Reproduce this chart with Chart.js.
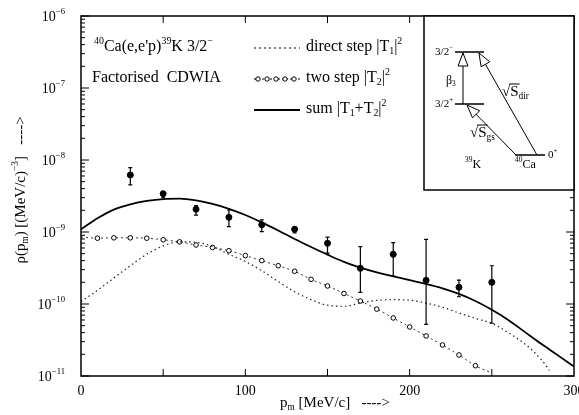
<!DOCTYPE html>
<html>
<head>
<meta charset="utf-8">
<script src="https://cdn.jsdelivr.net/npm/chart.js@4.4.1/dist/chart.umd.min.js"></script>
<style>
  html, body { margin: 0; padding: 0; background: #fff; }
  #wrap { width: 579px; height: 415px; }
</style>
</head>
<body>
<div id="wrap"><canvas id="myChart"></canvas></div>
<script>
// measured points
const pm = [30, 50, 70, 90, 110, 130, 150, 170, 190, 210, 230, 250];
const rho = [6.2e-9, 3.4e-9, 2.07e-9, 1.6e-9, 1.26e-9, 1.09e-9, 6.97e-10, 3.13e-10, 4.9e-10, 2.13e-10, 1.71e-10, 2.0e-10];
const rhoLo = [4.5e-9, 2.99e-9, 1.71e-9, 1.19e-9, 1.01e-9, 9.7e-10, 5.1e-10, 1.45e-10, 2.45e-10, 5.2e-11, 1.26e-10, 5.4e-11];
const rhoHi = [7.82e-9, 3.63e-9, 2.32e-9, 2.02e-9, 1.47e-9, 1.17e-9, 8.5e-10, 6.25e-10, 7.1e-10, 7.9e-10, 2.15e-10, 3.4e-10];

// sum |T1+T2|^2
const sumP = [0, 10, 20, 30, 40, 50, 60, 70, 80, 90, 100, 110, 120, 130, 140, 150, 160, 170, 180, 190, 200, 210, 220, 230, 240, 250, 260, 270, 280, 290, 300];
const sumV = [1.09e-9, 1.55e-9, 2.05e-9, 2.42e-9, 2.7e-9, 2.87e-9, 2.9e-9, 2.74e-9, 2.45e-9, 2.1e-9, 1.72e-9, 1.36e-9, 1.05e-9, 8.0e-10, 6.2e-10, 4.85e-10, 3.85e-10, 3.2e-10, 2.75e-10, 2.42e-10, 2.15e-10, 1.9e-10, 1.65e-10, 1.38e-10, 1.1e-10, 8.3e-11, 6e-11, 4.1e-11, 2.8e-11, 1.95e-11, 1.35e-11];

// direct step |T1|^2
const directP = [0, 10, 20, 30, 40, 50, 60, 70, 80, 90, 100, 110, 120, 130, 140, 150, 160, 170, 180, 190, 200, 210, 220, 230, 240, 250, 260, 270, 280, 285];
const directV = [1.08e-10, 1.55e-10, 2.3e-10, 3.4e-10, 4.9e-10, 6.4e-10, 7.3e-10, 7.2e-10, 6.3e-10, 4.9e-10, 3.9e-10, 2.9e-10, 2.05e-10, 1.48e-10, 1.15e-10, 9.6e-11, 9.3e-11, 1.03e-10, 1.12e-10, 1.15e-10, 1.13e-10, 1.03e-10, 9.0e-11, 7.5e-11, 6.3e-11, 5.4e-11, 4.0e-11, 2.8e-11, 1.7e-11, 1.2e-11];

// two step |T2|^2
const twoP = [0, 10, 20, 30, 40, 50, 60, 70, 80, 90, 100, 110, 120, 130, 140, 150, 160, 170, 180, 190, 200, 210, 220, 230, 240, 250];
const twoV = [8.5e-10, 8.2e-10, 8.3e-10, 8.3e-10, 8.2e-10, 7.8e-10, 7.3e-10, 6.6e-10, 6.1e-10, 5.5e-10, 4.7e-10, 4.0e-10, 3.4e-10, 2.85e-10, 2.2e-10, 1.78e-10, 1.4e-10, 1.1e-10, 8.5e-11, 6.4e-11, 4.8e-11, 3.6e-11, 2.7e-11, 1.96e-11, 1.39e-11, 1.1e-11];

// axis ticks
const xTicks = [0, 100, 200, 300];
const xMajor = [50, 100, 150, 200, 250];
const yExp = [-11, -10, -9, -8, -7, -6];

const SERIF = '"Liberation Serif", "DejaVu Serif", serif';

function pts(xs, ys) {
    return xs.map((x, i) => ({ x: x, y: ys[i] }));
}

function richWidth(ctx, segs, size) {
    let w = 0;
    for (const s of segs) {
        ctx.font = (s[1] ? size * 0.62 : size) + 'px ' + SERIF;
        w += ctx.measureText(s[0]).width;
    }
    return w;
}

function drawRich(ctx, segs, x, y, size, align) {
    let w = richWidth(ctx, segs, size);
    let cx = x;
    if (align == 'right') cx = x - w;
    if (align == 'center') cx = x - w / 2;
    ctx.textBaseline = 'middle';
    ctx.textAlign = 'left';
    for (const s of segs) {
        let sz = s[1] ? size * 0.62 : size;
        ctx.font = sz + 'px ' + SERIF;
        let dy = 0;
        if (s[1] == 1) dy = -size * 0.38;
        if (s[1] == -1) dy = size * 0.28;
        ctx.fillText(s[0], cx, y + dy);
        cx += ctx.measureText(s[0]).width;
    }
}

function openHead(ctx, x1, y1, x2, y2) {
    let a = Math.atan2(y2 - y1, x2 - x1);
    let len = 13, hw = 5;
    let bx = x2 - len * Math.cos(a), by = y2 - len * Math.sin(a);
    ctx.beginPath();
    ctx.moveTo(x2, y2);
    ctx.lineTo(bx + hw * Math.sin(a), by - hw * Math.cos(a));
    ctx.lineTo(bx - hw * Math.sin(a), by + hw * Math.cos(a));
    ctx.closePath();
    ctx.fillStyle = '#fff';
    ctx.fill();
    ctx.stroke();
}

const decor = {
    id: 'decor',
    afterDatasetsDraw(chart) {
        const ctx = chart.ctx;
        const xs = chart.scales.x, ys = chart.scales.y;
        const a = chart.chartArea;
        ctx.save();
        ctx.strokeStyle = '#000';
        ctx.fillStyle = '#000';

        // error bars
        ctx.lineWidth = 1.2;
        for (let i = 0; i < pm.length; i++) {
            let px = xs.getPixelForValue(pm[i]);
            let y1 = ys.getPixelForValue(rhoLo[i]);
            let y2 = ys.getPixelForValue(rhoHi[i]);
            ctx.beginPath();
            ctx.moveTo(px, y1); ctx.lineTo(px, y2);
            ctx.moveTo(px - 2, y1); ctx.lineTo(px + 2, y1);
            ctx.moveTo(px - 2, y2); ctx.lineTo(px + 2, y2);
            ctx.stroke();
        }

        // frame
        ctx.lineWidth = 1.5;
        ctx.strokeRect(a.left, a.top, a.right - a.left, a.bottom - a.top);

        // y ticks, both sides
        ctx.lineWidth = 1;
        ctx.beginPath();
        for (let e = -11; e <= -6; e++) {
            for (let m = 1; m <= 9; m++) {
                if (e == -6 && m > 1) break;
                let v = m * Math.pow(10, e);
                let py = ys.getPixelForValue(v);
                let len = m == 1 ? 8 : 4;
                ctx.moveTo(a.left, py); ctx.lineTo(a.left + len, py);
                ctx.moveTo(a.right, py); ctx.lineTo(a.right - len, py);
            }
        }
        // x ticks, both sides
        for (const v of xMajor) {
            let px = xs.getPixelForValue(v);
            ctx.moveTo(px, a.bottom); ctx.lineTo(px, a.bottom - 7);
            ctx.moveTo(px, a.top); ctx.lineTo(px, a.top + 7);
        }
        ctx.stroke();

        // tick labels
        for (const e of yExp) {
            drawRich(ctx, [['10', 0], [String(e).replace('-', '\u2212'), 1]], a.left - 16, ys.getPixelForValue(Math.pow(10, e)) + 1, 14, 'right');
        }
        for (const v of xTicks) {
            drawRich(ctx, [[String(v), 0]], xs.getPixelForValue(v), a.bottom + 15, 14, 'center');
        }

        // axis titles
        drawRich(ctx, [['p', 0], ['m', -1], [' [MeV/c]   ---->', 0]], 335, 403, 15, 'center');
        ctx.save();
        ctx.translate(21, 190);
        ctx.rotate(-Math.PI / 2);
        drawRich(ctx, [['\u03c1(p', 0], ['m', -1], [') [(MeV/c)', 0], ['\u22123', 1], [']   ---->', 0]], 0, 0, 15, 'center');
        ctx.restore();

        // legend
        drawRich(ctx, [['40', 1], ['Ca(e,e\'p)', 0], ['39', 1], ['K 3/2', 0], ['\u2212', 1]], 94, 47, 16, 'left');
        drawRich(ctx, [['Factorised  CDWIA', 0]], 92, 78, 16, 'left');

        ctx.lineWidth = 1.2;
        ctx.setLineDash([2, 3]);
        ctx.beginPath(); ctx.moveTo(254, 48); ctx.lineTo(300, 48); ctx.stroke();
        ctx.setLineDash([2, 2]);
        ctx.lineWidth = 1;
        ctx.beginPath(); ctx.moveTo(254, 79); ctx.lineTo(300, 79); ctx.stroke();
        ctx.setLineDash([]);
        for (let k = 0; k < 5; k++) {
            ctx.beginPath();
            ctx.arc(258 + k * 9, 79, 2.2, 0, Math.PI * 2);
            ctx.fillStyle = '#fff'; ctx.fill(); ctx.stroke();
        }
        ctx.fillStyle = '#000';
        ctx.lineWidth = 2;
        ctx.beginPath(); ctx.moveTo(254, 110); ctx.lineTo(300, 110); ctx.stroke();

        drawRich(ctx, [['direct step |T', 0], ['1', -1], ['|', 0], ['2', 1]], 306, 47, 16, 'left');
        drawRich(ctx, [['two step |T', 0], ['2', -1], ['|', 0], ['2', 1]], 306, 78, 16, 'left');
        drawRich(ctx, [['sum |T', 0], ['1', -1], ['+T', 0], ['2', -1], ['|', 0], ['2', 1]], 306, 109, 16, 'left');

        // inset level scheme
        ctx.fillStyle = '#fff';
        ctx.fillRect(424, a.top, a.right - 424, 190 - a.top);
        ctx.fillStyle = '#000';
        ctx.lineWidth = 1.5;
        ctx.strokeRect(424, a.top, a.right - 424, 190 - a.top);

        ctx.lineWidth = 1.5;
        ctx.beginPath();
        ctx.moveTo(455, 52); ctx.lineTo(484, 52);
        ctx.moveTo(455, 104); ctx.lineTo(484, 104);
        ctx.moveTo(515, 155); ctx.lineTo(545, 155);
        ctx.stroke();

        ctx.lineWidth = 1;
        ctx.beginPath();
        ctx.moveTo(463, 104); ctx.lineTo(463, 53);
        ctx.moveTo(537, 155); ctx.lineTo(479, 53);
        ctx.moveTo(516, 155); ctx.lineTo(467, 105);
        ctx.stroke();
        openHead(ctx, 463, 104, 463, 53);
        openHead(ctx, 537, 155, 479, 53);
        openHead(ctx, 516, 155, 467, 105);
        ctx.fillStyle = '#000';

        drawRich(ctx, [['3/2', 0], ['\u2212', 1]], 453, 52, 11, 'right');
        drawRich(ctx, [['3/2', 0], ['+', 1]], 453, 104, 11, 'right');
        drawRich(ctx, [['0', 0], ['+', 1]], 548, 155, 11, 'left');
        drawRich(ctx, [['\u03b2', 0], ['3', -1]], 446, 81, 12, 'left');
        drawRich(ctx, [['39', 1], ['K', 0]], 465, 165, 12, 'left');
        drawRich(ctx, [['40', 1], ['Ca', 0]], 515, 165, 12, 'left');

        // sqrt labels
        drawRich(ctx, [['\u221aS', 0], ['dir', -1]], 502, 92, 15, 'left');
        drawRich(ctx, [['\u221aS', 0], ['gs', -1]], 470, 133, 15, 'left');
        ctx.lineWidth = 1;
        ctx.font = '15px ' + SERIF;
        let rw = ctx.measureText('\u221a').width, sw = ctx.measureText('S').width;
        ctx.beginPath();
        ctx.moveTo(502 + rw - 1, 84); ctx.lineTo(502 + rw + sw + 1, 84);
        ctx.moveTo(470 + rw - 1, 125); ctx.lineTo(470 + rw + sw + 1, 125);
        ctx.stroke();

        ctx.restore();
    }
};

const data = {
    datasets: [
        {
            label: 'data',
            data: pts(pm, rho),
            showLine: false,
            pointRadius: 3,
            pointBackgroundColor: '#000',
            pointBorderColor: '#000',
            borderColor: '#000'
        },
        {
            label: 'sum',
            data: pts(sumP, sumV),
            borderColor: '#000',
            borderWidth: 1.8,
            pointRadius: 0,
            cubicInterpolationMode: 'monotone'
        },
        {
            label: 'direct',
            data: pts(directP, directV),
            borderColor: '#222',
            borderWidth: 1.2,
            borderDash: [1.5, 3],
            pointRadius: 0,
            cubicInterpolationMode: 'monotone'
        },
        {
            label: 'two step',
            data: pts(twoP, twoV),
            borderColor: '#333',
            borderWidth: 1,
            borderDash: [2, 3],
            pointRadius: twoP.map((p, i) => (i == 0 || i == twoP.length - 1) ? 0 : 2.3),
            pointBackgroundColor: '#fff',
            pointBorderColor: '#000',
            pointBorderWidth: 1,
            cubicInterpolationMode: 'monotone'
        }
    ]
};

const config = {
    type: 'line',
    data: data,
    options: {
        responsive: true,
        maintainAspectRatio: false,
        animation: false,
        layout: { padding: { left: 0, right: 4, top: 16, bottom: 0 } },
        plugins: {
            legend: { display: false },
            tooltip: { enabled: false }
        },
        scales: {
            x: {
                type: 'linear',
                min: 0,
                max: 300,
                grid: { display: false },
                border: { display: false },
                ticks: { display: false },
                afterFit: function (s) { s.height = 39; s.paddingLeft = 0; s.paddingRight = 0; }
            },
            y: {
                type: 'logarithmic',
                min: 1e-11,
                max: 1e-6,
                grid: { display: false },
                border: { display: false },
                ticks: { display: false },
                afterFit: function (s) { s.width = 81; s.paddingTop = 0; s.paddingBottom = 0; }
            }
        }
    },
    plugins: [decor]
};

new Chart(document.getElementById('myChart'), config);
</script>
</body>
</html>
